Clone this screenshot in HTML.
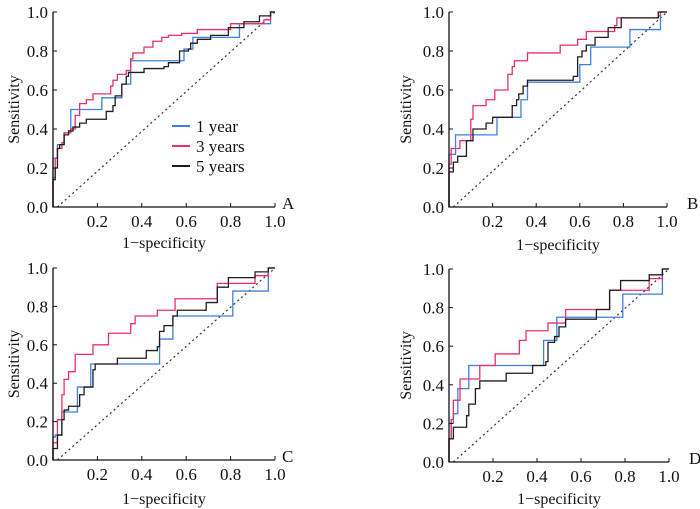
<!DOCTYPE html>
<html><head><meta charset="utf-8"><style>
html,body{margin:0;padding:0;background:#fff;width:700px;height:509px;overflow:hidden}
svg text{font-family:"Liberation Serif",serif;fill:#111}
</style></head><body>
<svg id="chart" width="700" height="509" viewBox="0 0 700 509" xmlns="http://www.w3.org/2000/svg"></svg>
<script>
const tickValues=[0,0.2,0.4,0.6,0.8,1.0];
const tickLabels=["0.0","0.2","0.4","0.6","0.8","1.0"];
const seriesNames=["1 year","3 years","5 years"];
const seriesColors=["#3f7fe0","#ea2f6a","#1e1e1e"];
const panelLetters=["A","B","C","D"];
// [fpr, tpr] step points per panel
const A_1year=[[0,0.25],[0.02,0.32],[0.05,0.38],[0.08,0.5],[0.22,0.56],[0.31,0.63],[0.35,0.75],[0.59,0.81],[0.63,0.87],[0.84,0.94],[0.98,1.0]];
const A_3years=[[0,0.15],[0.01,0.25],[0.02,0.3],[0.04,0.33],[0.05,0.38],[0.08,0.4],[0.1,0.47],[0.12,0.53],[0.15,0.55],[0.18,0.58],[0.26,0.62],[0.27,0.65],[0.29,0.68],[0.33,0.7],[0.35,0.76],[0.36,0.79],[0.41,0.82],[0.45,0.85],[0.49,0.87],[0.52,0.88],[0.58,0.89],[0.65,0.91],[0.8,0.94],[0.95,0.96],[0.98,1.0]];
const A_5years=[[0,0.14],[0.01,0.2],[0.02,0.3],[0.03,0.32],[0.05,0.37],[0.07,0.39],[0.09,0.41],[0.12,0.43],[0.15,0.45],[0.24,0.49],[0.27,0.52],[0.28,0.57],[0.31,0.63],[0.33,0.67],[0.34,0.69],[0.41,0.71],[0.5,0.72],[0.52,0.74],[0.57,0.8],[0.61,0.81],[0.62,0.84],[0.65,0.86],[0.71,0.88],[0.79,0.92],[0.86,0.95],[0.93,0.98],[0.98,1.0]];
const B_1year=[[0,0.27],[0.03,0.37],[0.22,0.46],[0.33,0.55],[0.36,0.64],[0.6,0.73],[0.65,0.82],[0.83,0.91],[0.97,1.0]];
const B_3years=[[0,0.22],[0.01,0.3],[0.05,0.34],[0.1,0.45],[0.11,0.52],[0.17,0.55],[0.21,0.6],[0.27,0.68],[0.29,0.72],[0.3,0.75],[0.36,0.79],[0.51,0.83],[0.59,0.86],[0.63,0.9],[0.76,0.93],[0.77,0.97],[0.96,0.98],[0.97,1.0]];
const B_5years=[[0,0.18],[0.02,0.23],[0.04,0.26],[0.08,0.34],[0.11,0.4],[0.17,0.43],[0.2,0.46],[0.29,0.52],[0.31,0.55],[0.32,0.58],[0.34,0.62],[0.36,0.65],[0.57,0.67],[0.59,0.77],[0.61,0.8],[0.63,0.83],[0.67,0.87],[0.73,0.92],[0.79,0.97],[0.96,1.0]];
const C_1year=[[0,0.12],[0.01,0.13],[0.04,0.25],[0.11,0.38],[0.17,0.5],[0.48,0.63],[0.54,0.75],[0.81,0.88],[0.97,1.0]];
const C_3years=[[0,0.09],[0.02,0.21],[0.04,0.34],[0.05,0.42],[0.07,0.46],[0.1,0.55],[0.18,0.6],[0.25,0.66],[0.35,0.71],[0.37,0.75],[0.47,0.78],[0.55,0.84],[0.74,0.92],[0.91,0.96],[0.97,1.0]];
const C_5years=[[0,0.06],[0.02,0.13],[0.04,0.21],[0.05,0.26],[0.07,0.28],[0.12,0.34],[0.14,0.38],[0.18,0.47],[0.19,0.5],[0.29,0.53],[0.42,0.57],[0.47,0.59],[0.48,0.67],[0.5,0.7],[0.54,0.75],[0.56,0.78],[0.69,0.82],[0.74,0.9],[0.79,0.95],[0.91,0.98],[0.97,1.0]];
const D_1year=[[0,0.12],[0.01,0.2],[0.02,0.25],[0.04,0.38],[0.09,0.5],[0.43,0.63],[0.49,0.75],[0.79,0.87],[0.97,1.0]];
const D_3years=[[0,0.12],[0.01,0.22],[0.02,0.32],[0.05,0.43],[0.14,0.5],[0.21,0.56],[0.32,0.63],[0.35,0.68],[0.45,0.72],[0.53,0.79],[0.73,0.89],[0.91,0.95],[0.97,1.0]];
const D_5years=[[0,0.12],[0.02,0.18],[0.08,0.24],[0.09,0.3],[0.12,0.38],[0.14,0.42],[0.26,0.46],[0.38,0.5],[0.44,0.52],[0.45,0.62],[0.48,0.65],[0.5,0.7],[0.53,0.74],[0.67,0.79],[0.73,0.89],[0.78,0.94],[0.91,0.97],[0.97,1.0]];
const panelSeries=[[A_1year,A_3years,A_5years],[B_1year,B_3years,B_5years],[C_1year,C_3years,C_5years],[D_1year,D_3years,D_5years]];

const layout=[{x0:53,x1:275,y0:207,y1:12,ylab:13,xlab:248},{x0:449,x1:667,y0:207,y1:12,ylab:405,xlab:250},
{x0:53,x1:275,y0:460,y1:268,ylab:13,xlab:504},{x0:449,x1:669,y0:462,y1:269,ylab:405,xlab:504}];
const NS="http://www.w3.org/2000/svg";
const svg=document.getElementById('chart');
function mk(tag,attrs,parent){const e=document.createElementNS(NS,tag);for(const k in attrs)e.setAttribute(k,attrs[k]);(parent||svg).appendChild(e);return e;}

layout.forEach((L,p)=>{
  const sx=v=>L.x0+v*(L.x1-L.x0);
  const sy=v=>L.y0-v*(L.y0-L.y1);
  const g=mk('g',{});
  
  
  const d=mk('line',{x1:sx(0.02),y1:sy(0),x2:sx(1),y2:sy(1),stroke:'#333','stroke-width':1.2,'stroke-dasharray':'2,3'},g);
  
  
  panelSeries[p].forEach((pts,si)=>{
    let dd='M'+sx(0)+','+sy(0);
    pts.forEach(pt=>{dd+=' H'+sx(pt[0])+' V'+sy(pt[1]);});
    dd+=' H'+sx(1);
    const path=mk('path',{d:dd,fill:'none',stroke:seriesColors[si],'stroke-width':1.3},g);
    
    
  });
  const ax=mk('path',{d:`M${L.x0},${L.y1} V${L.y0} H${L.x1}`,fill:'none',stroke:'#111','stroke-width':1.3},g);
  
  
  tickValues.forEach((v,i)=>{
    mk('line',{x1:L.x0,y1:sy(v),x2:L.x0+4,y2:sy(v),stroke:'#111','stroke-width':1},g);
    const yt=mk('text',{x:L.x0-5,y:sy(v)+6,'text-anchor':'end','font-size':17},g);
    yt.textContent=tickLabels[i];
    
    
    if(i>0){
      mk('line',{x1:sx(v),y1:L.y0,x2:sx(v),y2:L.y0-4,stroke:'#111','stroke-width':1},g);
      const xt=mk('text',{x:sx(v),y:L.y0+20,'text-anchor':'middle','font-size':17},g);
      xt.textContent=tickLabels[i];
      
      
    }
  });
  const xl=mk('text',{x:(L.x0+L.x1)/2,y:L.xlab,'text-anchor':'middle','font-size':16},g);
  xl.textContent='1\u2212specificity';
  
  
  const yl=mk('text',{x:0,y:0,'text-anchor':'middle','font-size':16,transform:`translate(${L.ylab+6},${(L.y0+L.y1)/2}) rotate(-90)`},g);
  yl.textContent='Sensitivity';
  
  
  const pl=mk('text',{x:L.x1+(p%2?20:7),y:L.y0+2,'font-size':17},g);
  pl.textContent=panelLetters[p];
  
  
});
const lg=mk('g',{});


seriesNames.forEach((n,i)=>{
  const y=126+i*20;
  mk('line',{x1:172,y1:y,x2:190,y2:y,stroke:seriesColors[i],'stroke-width':2},lg);
  const t=mk('text',{x:196,y:y+6,'font-size':17},lg);
  t.textContent=n;
  
  
});
</script>
</body></html>
